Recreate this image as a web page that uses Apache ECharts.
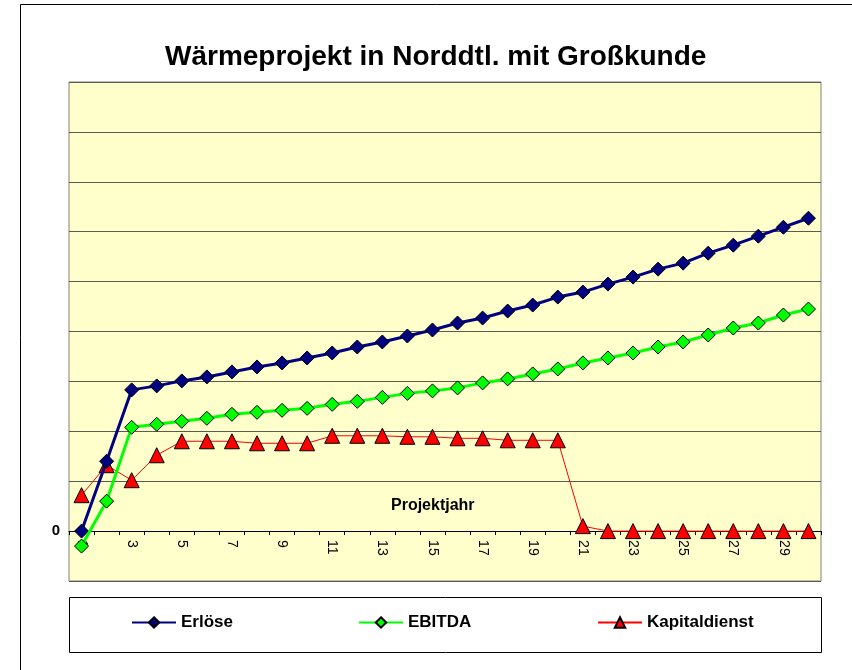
<!DOCTYPE html>
<html>
<head>
<meta charset="utf-8">
<script src="https://cdn.jsdelivr.net/npm/echarts@6/dist/echarts.min.js"></script>
<style>
  html, body { margin: 0; padding: 0; background: #fff; }
  #chart { width: 852px; height: 670px; }
</style>
</head>
<body>
<div id="chart"></div>
<script>
// Projektjahre 1..30
var years = [];
for (var i = 1; i <= 30; i++) years.push(String(i));

var erloese = [0, 1.40, 2.83, 2.91, 3.01, 3.09, 3.19, 3.29, 3.37, 3.47,
  3.57, 3.69, 3.79, 3.91, 4.03, 4.17, 4.27, 4.41, 4.53, 4.69,
  4.79, 4.95, 5.09, 5.25, 5.37, 5.57, 5.73, 5.91, 6.09, 6.27];
var ebitda = [-0.30, 0.60, 2.08, 2.14, 2.20, 2.26, 2.34, 2.38, 2.42, 2.46,
  2.54, 2.60, 2.68, 2.76, 2.81, 2.87, 2.97, 3.05, 3.15, 3.25,
  3.37, 3.47, 3.57, 3.69, 3.79, 3.93, 4.07, 4.17, 4.33, 4.45];
var kapitaldienst = [0.72, 1.32, 1.02, 1.52, 1.80, 1.80, 1.80, 1.76, 1.76, 1.76,
  1.91, 1.91, 1.91, 1.89, 1.89, 1.86, 1.86, 1.82, 1.82, 1.82,
  0.10, 0, 0, 0, 0, 0, 0, 0, 0, 0];

var font = 'Liberation Sans, Arial, sans-serif';

var chart = echarts.init(document.getElementById('chart'));

// grid: 499px hoch, 10 Einheiten -> Nulllinie eine Einheit ueber dem Rand
var gridH = 670 - 82 - 89;
var unitPx = gridH / 10;

function legendAt(name, left) {
  return {
    data: [name],
    left: left,
    top: 614,
    padding: 0,
    itemWidth: 44,
    itemHeight: 13,
    textStyle: { fontFamily: font, fontWeight: 'bold', fontSize: 17, color: '#000' }
  };
}

var option = {
  backgroundColor: '#fff',
  animation: false,
  title: {
    text: 'Wärmeprojekt in Norddtl. mit Großkunde',
    left: 165,
    top: 43,
    padding: 0,
    textStyle: { fontFamily: font, fontWeight: 'bold', fontSize: 28, color: '#000' }
  },
  legend: [
    legendAt('Erlöse', 131),
    legendAt('EBITDA', 358),
    legendAt('Kapitaldienst', 597)
  ],
  grid: {
    left: 69, right: 31, top: 82, bottom: 89,
    show: true,
    backgroundColor: '#FFFFCC',
    borderColor: '#808080',
    borderWidth: 1
  },
  xAxis: {
    type: 'category',
    data: years,
    boundaryGap: true,
    position: 'bottom',
    offset: -unitPx,
    axisLine: { onZero: false, lineStyle: { color: '#000', width: 1 } },
    axisTick: { show: true, interval: 0, inside: false, length: 4, lineStyle: { color: '#000' } },
    axisLabel: {
      interval: 1,
      rotate: -90,
      margin: 9,
      fontFamily: font,
      fontSize: 14,
      color: '#000'
    },
    splitLine: { show: false }
  },
  yAxis: {
    type: 'value',
    min: -1,
    max: 9,
    interval: 1,
    axisLine: { show: false },
    axisTick: { show: false },
    axisLabel: {
      margin: 9,
      fontFamily: font,
      fontWeight: 'bold',
      fontSize: 15,
      color: '#000',
      formatter: function (v) { return v === 0 ? '0' : ''; }
    },
    splitLine: { show: true, lineStyle: { color: '#5a5a50', width: 1 } }
  },
  graphic: [
    {
      type: 'rect',
      shape: { x: 20.5, y: 4.5, width: 900, height: 800 },
      style: { fill: 'none', stroke: '#000', lineWidth: 1 },
      silent: true
    },
    {
      type: 'rect',
      shape: { x: 69.5, y: 597.5, width: 752, height: 55 },
      style: { fill: 'none', stroke: '#000', lineWidth: 1 },
      silent: true
    },
    {
      type: 'text',
      left: 391,
      top: 498,
      z: 5,
      style: { text: 'Projektjahr', fontFamily: font, fontWeight: 'bold', fontSize: 16, fill: '#000' }
    }
  ],
  series: [
    {
      name: 'Erlöse',
      type: 'line',
      data: erloese,
      symbol: 'diamond',
      symbolSize: 14,
      lineStyle: { color: '#000080', width: 3 },
      itemStyle: { color: '#000080', borderColor: '#000', borderWidth: 1 },
      z: 3
    },
    {
      name: 'EBITDA',
      type: 'line',
      data: ebitda,
      symbol: 'diamond',
      symbolSize: 14,
      lineStyle: { color: '#00FF00', width: 3 },
      itemStyle: { color: '#00FF00', borderColor: '#000', borderWidth: 1 },
      z: 4
    },
    {
      name: 'Kapitaldienst',
      type: 'line',
      data: kapitaldienst,
      symbol: 'triangle',
      symbolSize: 15,
      lineStyle: { color: '#FF0000', width: 1 },
      itemStyle: { color: '#FF0000', borderColor: '#000', borderWidth: 1 },
      z: 2
    }
  ]
};

chart.setOption(option);
</script>
</body>
</html>
